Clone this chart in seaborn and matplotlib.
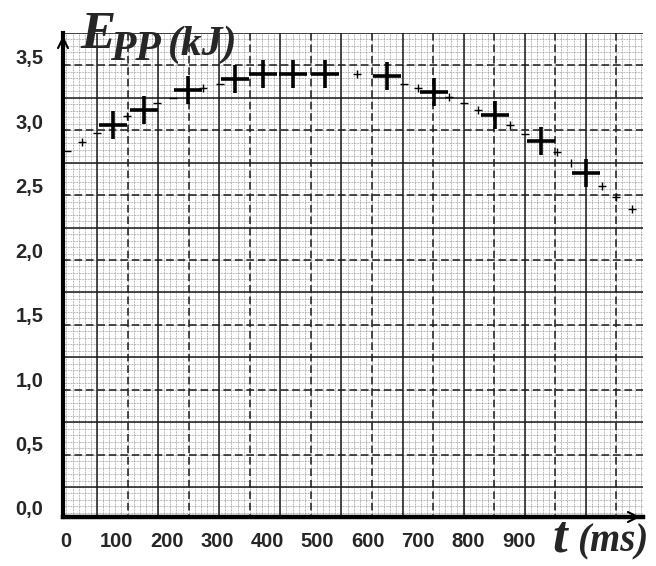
import numpy as np
import pandas as pd
import matplotlib
matplotlib.use("Agg")
import matplotlib.pyplot as plt
import seaborn as sns

# readings: time (ms) and potential energy (kJ)
t_big = [94, 155, 242, 336, 392, 452, 515, 638, 732, 853, 944, 1034]
e_big = [2.97, 3.09, 3.24, 3.33, 3.37, 3.37, 3.37, 3.35, 3.23, 3.05, 2.85, 2.60]

t_small = [31, 121, 273, 579, 700, 762, 820, 883, 976, 1065, 1094, 1125]
e_small = [2.84, 3.04, 3.26, 3.365, 3.26, 3.19, 3.09, 2.97, 2.76, 2.50, 2.415, 2.32]

t_dash = [2, 61, 182, 213, 306, 671, 792, 913]
e_dash = [2.77, 2.91, 3.14, 3.18, 3.29, 3.29, 3.14, 2.90]

t_tick = [1004]
e_tick = [2.68]

x_ticks = [0, 100, 200, 300, 400, 500, 600, 700, 800, 900]
y_ticks = [0.0, 0.5, 1.0, 1.5, 2.0, 2.5, 3.0, 3.5]
y_labels = ["0,0", "0,5", "1,0", "1,5", "2,0", "2,5", "3,0", "3,5"]

df = pd.concat([
    pd.DataFrame({"t": t_big, "E": e_big, "kind": "big"}),
    pd.DataFrame({"t": t_small, "E": e_small, "kind": "small"}),
    pd.DataFrame({"t": t_dash, "E": e_dash, "kind": "dash"}),
    pd.DataFrame({"t": t_tick, "E": e_tick, "kind": "tick"}),
])

sns.set_style("white")
plt.rcParams["font.family"] = ["Liberation Sans", "DejaVu Sans"]

W, H = 656, 566
fig = plt.figure(figsize=(W / 100, H / 100), dpi=100)
L, R, B, T = 63, 643, 517, 33
rect = [L / W, 1 - B / H, (R - L) / W, (B - T) / H]

# graph paper, drawn in pixel units on its own axes
gax = fig.add_axes(rect, zorder=0)
gax.set_xlim(L, R)
gax.set_ylim(B, T)
gax.axis("off")
px, py = 61.1, 64.86
gax.vlines(np.arange(97 - px, R, px / 10), T, B, color="#8a8a8a", lw=0.55, linestyles=(0, (1, 1)))
gax.hlines(np.arange(487 + py, T - 1, -py / 10), L, R, color="#8a8a8a", lw=0.55, linestyles=(0, (1, 1)))
gax.vlines(np.arange(97, R, px), T, B, color="#1a1a1a", lw=1.1)
gax.vlines(np.arange(97 + px / 2, R, px), T, B, color="#1a1a1a", lw=1.1, linestyles=(0, (5, 2.5)))
gax.hlines(np.arange(487, T - 2, -py), L, R, color="#1a1a1a", lw=1.1)
gax.hlines(np.arange(487 - py / 2, T, -py), L, R, color="#1a1a1a", lw=1.1, linestyles=(0, (5, 2.5)))

# data axes
ax = fig.add_axes(rect, zorder=1)
ax.patch.set_alpha(0)
ax.set_xlim(-5.8, 1147)
ax.set_ylim(-0.07, 3.685)

sns.scatterplot(data=df[df.kind == "big"], x="t", y="E", marker="+", s=380,
                color="black", linewidth=2.6, ax=ax, legend=False, zorder=5)
sns.scatterplot(data=df[df.kind == "small"], x="t", y="E", marker="+", s=36,
                color="black", linewidth=1.0, ax=ax, legend=False, zorder=5)
sns.scatterplot(data=df[df.kind == "dash"], x="t", y="E", marker="_", s=30,
                color="black", linewidth=1.0, ax=ax, legend=False, zorder=5)
sns.scatterplot(data=df[df.kind == "tick"], x="t", y="E", marker="|", s=40,
                color="black", linewidth=1.0, ax=ax, legend=False, zorder=5)

ax.set_xticks(x_ticks)
ax.set_xticklabels([str(v) for v in x_ticks])
ax.set_yticks(y_ticks)
ax.set_yticklabels(y_labels)
ax.tick_params(axis="both", length=0, labelsize=14.5)
ax.tick_params(axis="y", pad=14)
ax.tick_params(axis="x", pad=11)
for lab in ax.get_xticklabels() + ax.get_yticklabels():
    lab.set_fontweight("bold")
ax.set_xlabel("")
ax.set_ylabel("")

for side in ["top", "right"]:
    ax.spines[side].set_visible(False)
ax.spines["left"].set_linewidth(3)
ax.spines["bottom"].set_linewidth(3.2)
ax.spines["left"].set_color("black")
ax.spines["bottom"].set_color("black")

ax.annotate("", xy=(0, 1.0), xytext=(0, 0.95), xycoords="axes fraction",
            arrowprops=dict(arrowstyle="->", lw=1.5, color="black", mutation_scale=18))
ax.annotate("", xy=(1.0, 0), xytext=(0.95, 0), xycoords="axes fraction",
            arrowprops=dict(arrowstyle="->", lw=1.5, color="black", mutation_scale=18))

serif = ["Liberation Serif", "DejaVu Serif"]
def ftext(x, y, s, size):
    fig.text(x / W, 1 - y / H, s, fontsize=size, family=serif, fontweight="bold",
             fontstyle="italic", ha="left", va="baseline", zorder=10)

ftext(80, 48, "E", 38)
ftext(110, 60, "PP", 30)
ftext(168, 55, "(kJ)", 30)
ftext(552, 551, "t", 38)
ftext(577, 551, "(ms)", 28)

fig.savefig("out.png", dpi=100)
